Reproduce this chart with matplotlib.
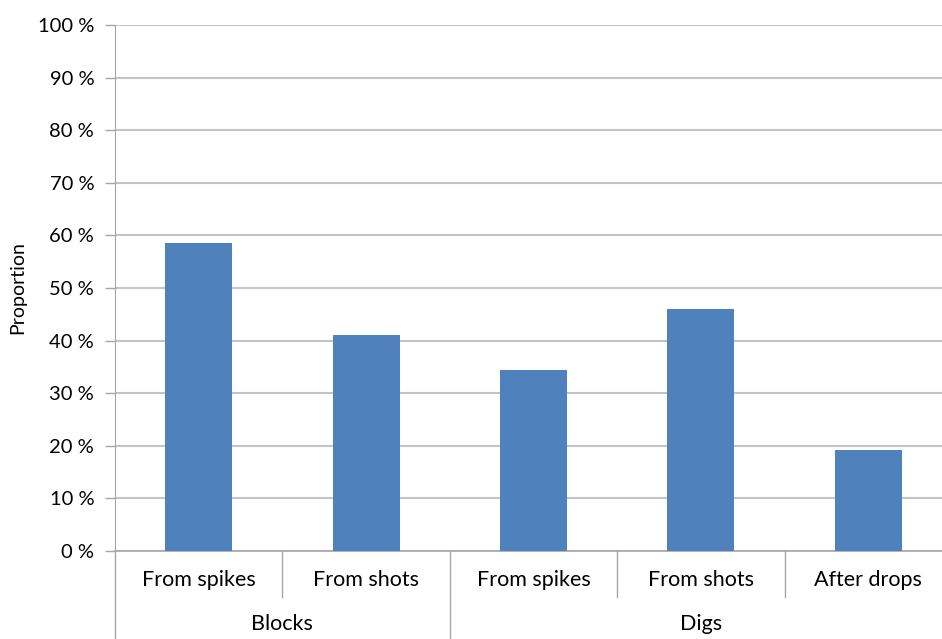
import matplotlib.pyplot as plt

groups = ['Blocks', 'Digs']
group_sizes = [2, 3]
categories = ['From spikes', 'From shots', 'From spikes', 'From shots', 'After drops']
values = [58.5, 41.1, 34.5, 46.0, 19.2]
yticks = list(range(0, 101, 10))

plt.rcParams['font.family'] = ['Lato', 'DejaVu Sans']

W, H = 942, 639
fig = plt.figure(figsize=(W / 100, H / 100), dpi=100)
x0, x1, y0, y1 = 115, 952, 551, 25
ax = fig.add_axes([x0 / W, 1 - y0 / H, (x1 - x0) / W, (y0 - y1) / H])

xs = list(range(len(categories)))
ax.bar(xs, values, width=0.4, color='#4F81BD', zorder=3)

ax.set_xlim(-0.5, len(categories) - 0.5)
ax.set_ylim(0, 100)
ax.set_yticks(yticks)
ax.set_yticklabels([f'{t} %' for t in yticks], fontsize=14.5)
ax.yaxis.grid(True, color='#c4c4c4', linewidth=1.5, zorder=0)
ax.tick_params(axis='y', length=7, color='#a6a6a6', width=1, pad=8)
ax.set_xticks([])
for s in ['top', 'right']:
    ax.spines[s].set_visible(False)
ax.spines['left'].set_color('#a6a6a6')
ax.spines['bottom'].set_color('#a6a6a6')
ax.spines['bottom'].set_linewidth(1.2)
ax.set_ylabel('Proportion', fontsize=14, labelpad=8)

tr = ax.get_xaxis_transform()
ah = y0 - y1
cat_y = -(580 - y0) / ah
grp_y = -(624 - y0) / ah
sep_y = -(597 - y0) / ah
gsep_y = -(640 - y0) / ah

for x, c in zip(xs, categories):
    ax.text(x, cat_y, c, transform=tr, ha='center', va='center', fontsize=15.5)

start = 0
for g, n in zip(groups, group_sizes):
    ax.text(start + (n - 1) / 2, grp_y, g, transform=tr, ha='center', va='center', fontsize=15.5)
    ax.plot([start - 0.5, start - 0.5], [0, gsep_y], transform=tr, color='#a6a6a6', lw=1, clip_on=False)
    for k in range(1, n):
        b = start + k - 0.5
        ax.plot([b, b], [0, sep_y], transform=tr, color='#a6a6a6', lw=1, clip_on=False)
    start += n

fig.savefig('out.png', dpi=100)
